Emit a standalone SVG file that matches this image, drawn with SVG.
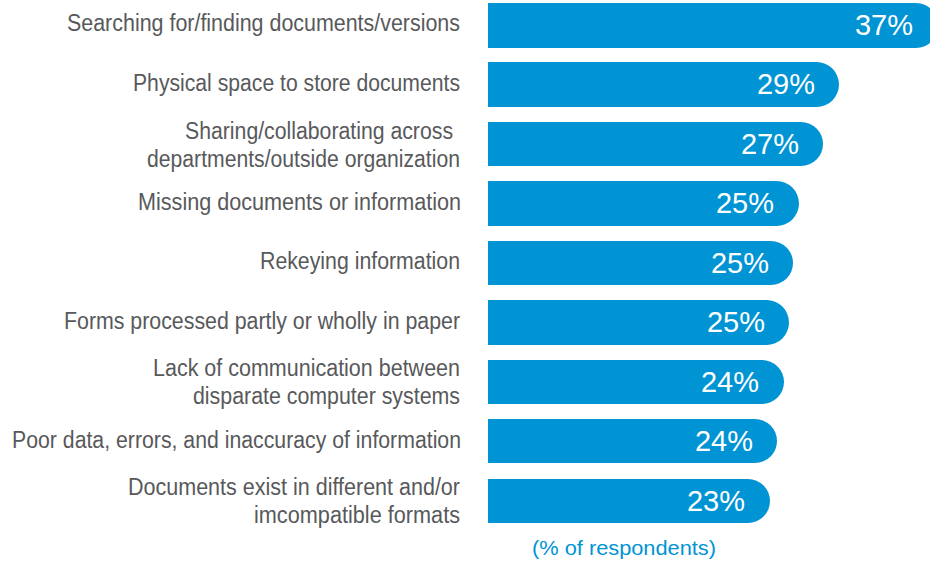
<svg xmlns="http://www.w3.org/2000/svg" width="930" height="563" viewBox="0 0 930 563">
<style>
.bar{fill:#0094d4}
.lbl{font-family:"Liberation Sans",Arial,sans-serif;font-size:23px;fill:#58595b}
.pct{font-family:"Liberation Sans",Arial,sans-serif;font-size:29px;fill:#ffffff;text-anchor:end}
.note{font-family:"Liberation Sans",Arial,sans-serif;font-size:20px;fill:#0094d4}
</style>
<rect width="930" height="563" fill="#ffffff"/>
<g id="row1">
<path class="bar" d="M488,3 H916 A22.5,22.5 0 0 1 916,48 H488 Z"/>
<text class="pct" x="913" y="35">37%</text>
<text class="lbl" x="67" y="31" textLength="393" lengthAdjust="spacingAndGlyphs">Searching for/finding documents/versions</text>
</g>
<g id="row2">
<path class="bar" d="M488,62 H816.5 A22.5,22.5 0 0 1 816.5,107 H488 Z"/>
<text class="pct" x="815" y="94">29%</text>
<text class="lbl" x="133" y="91" textLength="327" lengthAdjust="spacingAndGlyphs">Physical space to store documents</text>
</g>
<g id="row3">
<path class="bar" d="M488,122 H801 A22,22 0 0 1 801,166 H488 Z"/>
<text class="pct" x="799" y="154">27%</text>
<text class="lbl" x="185" y="139" textLength="268" lengthAdjust="spacingAndGlyphs">Sharing/collaborating across</text>
<text class="lbl" x="147" y="167" textLength="313" lengthAdjust="spacingAndGlyphs">departments/outside organization</text>
</g>
<g id="row4">
<path class="bar" d="M488,181 H776.5 A22.5,22.5 0 0 1 776.5,226 H488 Z"/>
<text class="pct" x="774" y="213">25%</text>
<text class="lbl" x="138" y="210" textLength="323" lengthAdjust="spacingAndGlyphs">Missing documents or information</text>
</g>
<g id="row5">
<path class="bar" d="M488,241 H771 A22,22 0 0 1 771,285 H488 Z"/>
<text class="pct" x="769" y="273">25%</text>
<text class="lbl" x="260" y="269" textLength="200" lengthAdjust="spacingAndGlyphs">Rekeying information</text>
</g>
<g id="row6">
<path class="bar" d="M488,300 H766.5 A22.5,22.5 0 0 1 766.5,345 H488 Z"/>
<text class="pct" x="765" y="332">25%</text>
<text class="lbl" x="64" y="329" textLength="396" lengthAdjust="spacingAndGlyphs">Forms processed partly or wholly in paper</text>
</g>
<g id="row7">
<path class="bar" d="M488,360 H762 A22,22 0 0 1 762,404 H488 Z"/>
<text class="pct" x="759" y="392">24%</text>
<text class="lbl" x="153" y="376" textLength="307" lengthAdjust="spacingAndGlyphs">Lack of communication between</text>
<text class="lbl" x="193" y="404" textLength="267" lengthAdjust="spacingAndGlyphs">disparate computer systems</text>
</g>
<g id="row8">
<path class="bar" d="M488,419 H755 A22,22 0 0 1 755,463 H488 Z"/>
<text class="pct" x="753" y="451">24%</text>
<text class="lbl" x="12" y="448" textLength="449" lengthAdjust="spacingAndGlyphs">Poor data, errors, and inaccuracy of information</text>
</g>
<g id="row9">
<path class="bar" d="M488,479 H748 A22,22 0 0 1 748,523 H488 Z"/>
<text class="pct" x="745" y="511">23%</text>
<text class="lbl" x="128" y="495" textLength="332" lengthAdjust="spacingAndGlyphs">Documents exist in different and/or</text>
<text class="lbl" x="254" y="523" textLength="206" lengthAdjust="spacingAndGlyphs">imcompatible formats</text>
</g>
<g id="connectors"/>
<text class="note" x="532" y="555" textLength="184" lengthAdjust="spacingAndGlyphs">(% of respondents)</text>
</svg>
